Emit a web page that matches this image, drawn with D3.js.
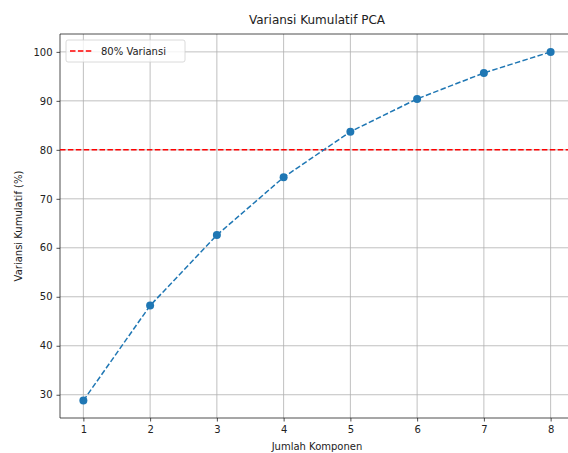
<!DOCTYPE html>
<html><head><meta charset="utf-8">
<script src="https://cdn.jsdelivr.net/npm/d3@7"></script>
<style>html,body{margin:0;background:#fff;overflow:hidden}svg{display:block}text{font-family:"DejaVu Sans",sans-serif;fill:#222}</style>
</head><body><svg id="c" width="568" height="453"></svg>
<script>
const components = [1,2,3,4,5,6,7,8];
const cumVariance = [28.8, 48.2, 62.6, 74.4, 83.7, 90.4, 95.7, 100.0];
const yTicks = [30,40,50,60,70,80,90,100];
const threshold = 80;
const title = "Variansi Kumulatif PCA";
const xLabel = "Jumlah Komponen";
const yLabel = "Variansi Kumulatif (%)";
const legendLabel = "80% Variansi";

const svg = d3.select("#c");
const L=60, R=574, T=34, B=418;
const x = d3.scaleLinear().domain([0.65, 8.35]).range([L, R]);
const y = d3.scaleLinear().domain([25.25, 103.65]).range([B, T]);

// grid
svg.append("g").selectAll("line").data(components).join("line")
  .attr("x1", d=>x(d)).attr("x2", d=>x(d)).attr("y1", T).attr("y2", B)
  .attr("stroke", "#b0b0b0").attr("stroke-width", 0.8);
svg.append("g").selectAll("line").data(yTicks).join("line")
  .attr("x1", L).attr("x2", R).attr("y1", d=>y(d)).attr("y2", d=>y(d))
  .attr("stroke", "#b0b0b0").attr("stroke-width", 0.8);

// axes
const xa = svg.append("g").attr("transform", `translate(0,${B})`)
  .call(d3.axisBottom(x).tickValues(components).tickFormat(d3.format("d")).tickSize(3.5).tickPadding(4));
const ya = svg.append("g").attr("transform", `translate(${L},0)`)
  .call(d3.axisLeft(y).tickValues(yTicks).tickSize(3.5).tickPadding(4));
[xa, ya].forEach(a => {
  a.select(".domain").remove();
  a.selectAll("line").attr("stroke", "#222").attr("stroke-width", 0.8);
  a.selectAll("text").attr("font-size", 10).attr("fill", "#222").style("font-family", "DejaVu Sans");
});
// spines (left, top, bottom; right one falls outside the canvas)
const sp = svg.append("g").attr("stroke", "#222").attr("stroke-width", 0.8);
sp.append("line").attr("x1", L).attr("x2", L).attr("y1", T).attr("y2", B);
sp.append("line").attr("x1", L).attr("x2", R).attr("y1", T).attr("y2", T);
sp.append("line").attr("x1", L).attr("x2", R).attr("y1", B).attr("y2", B);

// threshold
svg.append("line").attr("x1", L).attr("x2", R).attr("y1", y(threshold)).attr("y2", y(threshold))
  .attr("stroke", "#ff0000").attr("stroke-width", 1.5).attr("stroke-dasharray", "5.5,2.4");

// line
const line = d3.line().x((d,i)=>x(components[i])).y(d=>y(d));
svg.append("path").datum(cumVariance).attr("d", line).attr("fill", "none")
  .attr("stroke", "#1f77b4").attr("stroke-width", 1.5).attr("stroke-dasharray", "5.5,2.4");
svg.append("g").selectAll("circle").data(cumVariance).join("circle")
  .attr("cx", (d,i)=>x(components[i])).attr("cy", d=>y(d)).attr("r", 4)
  .attr("fill", "#1f77b4");

// title & labels
svg.append("text").attr("x", (L+R)/2).attr("y", 24).attr("text-anchor", "middle")
  .attr("font-size", 12).text(title);
svg.append("text").attr("x", (L+R)/2).attr("y", 450).attr("text-anchor", "middle")
  .attr("font-size", 10).text(xLabel);
svg.append("text").attr("transform", `translate(22,${(T+B)/2}) rotate(-90)`).attr("text-anchor", "middle")
  .attr("font-size", 10).text(yLabel);

// legend
const lg = svg.append("g");
lg.append("rect").attr("x", 66).attr("y", 40).attr("width", 119).attr("height", 22).attr("rx", 2)
  .attr("fill", "#fff").attr("fill-opacity", 0.8).attr("stroke", "#d0d0d0").attr("stroke-width", 0.8);
lg.append("line").attr("x1", 70).attr("x2", 92).attr("y1", 51).attr("y2", 51)
  .attr("stroke", "#ff0000").attr("stroke-width", 1.5).attr("stroke-dasharray", "5.5,2.4");
lg.append("text").attr("x", 101).attr("y", 55).attr("font-size", 10).text(legendLabel);
</script></body></html>
